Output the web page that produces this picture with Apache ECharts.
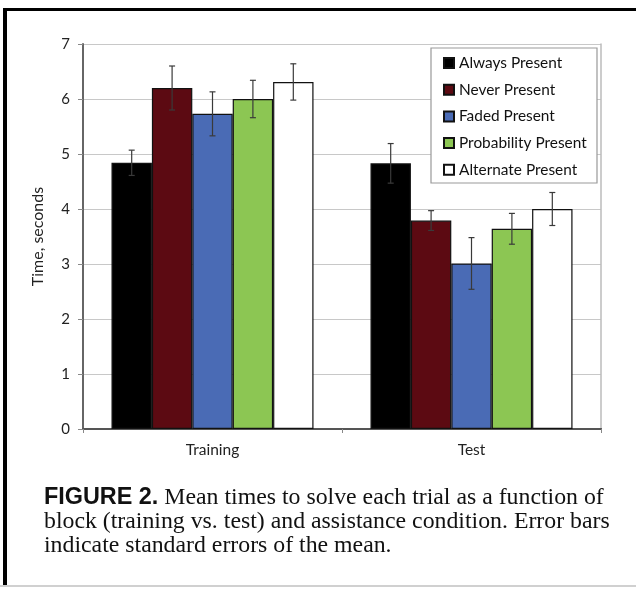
<!DOCTYPE html>
<html>
<head>
<meta charset="utf-8">
<script src="https://cdn.jsdelivr.net/npm/echarts@6/dist/echarts.min.js"></script>
<style>
html,body{margin:0;padding:0;background:#fff;}
#chart{width:636px;height:589px;}
</style>
</head>
<body>
<div id="chart"></div>
<script>
var categories = ['Training', 'Test'];
var seriesNames = ['Always Present', 'Never Present', 'Faded Present', 'Probability Present', 'Alternate Present'];
var alwaysVals = [4.84, 4.83];
var alwaysErr = [0.23, 0.36];
var neverVals = [6.20, 3.79];
var neverErr = [0.40, 0.18];
var fadedVals = [5.73, 3.01];
var fadedErr = [0.40, 0.47];
var probVals = [6.00, 3.64];
var probErr = [0.34, 0.28];
var altVals = [6.31, 4.00];
var altErr = [0.33, 0.30];
var yTicks = [0, 1, 2, 3, 4, 5, 6, 7];

var colors = ['#000000', '#5c0a12', '#4a6bb5', '#8cc653', '#ffffff'];
var values = [alwaysVals, neverVals, fadedVals, probVals, altVals];
var errs = [alwaysErr, neverErr, fadedErr, probErr, altErr];

var catGap = 0.22;
var sans = 'Lato, "Open Sans", sans-serif';
var serifFont = '"Liberation Serif", "Times New Roman", serif';

var series = [];
values.forEach(function (vals, i) {
  series.push({
    name: seriesNames[i],
    type: 'bar',
    data: vals,
    barGap: '0%',
    barCategoryGap: (catGap * 100) + '%',
    itemStyle: { color: colors[i], borderColor: '#111', borderWidth: 1.2 },
    z: 2
  });
});
values.forEach(function (vals, i) {
  var data = vals.map(function (v, j) { return [j, v, errs[i][j]]; });
  series.push({
    type: 'custom',
    name: seriesNames[i] + ' err',
    data: data,
    z: 5,
    silent: true,
    renderItem: function (params, api) {
      var x = api.value(0), v = api.value(1), e = api.value(2);
      var band = api.size([1, 0])[0];
      var bw = band * (1 - catGap) / 5;
      var off = (i - 2) * bw;
      var top = api.coord([x, v + e]);
      var bot = api.coord([x, v - e]);
      var cx = top[0] + off;
      var cap = 3;
      var st = { stroke: '#3a3a3a', lineWidth: 1.2 };
      return {
        type: 'group',
        children: [
          { type: 'line', shape: { x1: cx, y1: top[1], x2: cx, y2: bot[1] }, style: st },
          { type: 'line', shape: { x1: cx - cap, y1: top[1], x2: cx + cap, y2: top[1] }, style: st },
          { type: 'line', shape: { x1: cx - cap, y1: bot[1], x2: cx + cap, y2: bot[1] }, style: st }
        ]
      };
    }
  });
});

var chart = echarts.init(document.getElementById('chart'), null, { renderer: 'canvas' });
chart.setOption({
  backgroundColor: '#fff',
  animation: false,
  grid: { left: 83, right: 35, top: 44, bottom: 160 },
  legend: {
    data: seriesNames,
    orient: 'vertical',
    left: 443,
    top: 55,
    padding: 0,
    itemWidth: 10,
    itemHeight: 10,
    itemGap: 10.7,
    icon: 'rect',
    z: 10,
    textStyle: { fontFamily: sans, fontSize: 15.4, color: '#111', lineHeight: 16, padding: [0, 0, 0, 0] },
    selectedMode: false
  },
  xAxis: [{
    type: 'category',
    data: categories,
    position: 'bottom',
    axisLine: { lineStyle: { color: '#666', width: 2 } },
    axisTick: { show: true, length: 4, lineStyle: { color: '#888' } },
    axisLabel: { fontFamily: sans, fontSize: 15.5, color: '#222', margin: 13 }
  }, {
    type: 'category',
    data: categories,
    position: 'top',
    axisLine: { lineStyle: { color: '#555', width: 2 } },
    axisTick: { show: false },
    axisLabel: { show: false }
  }],
  yAxis: [{
    type: 'value',
    min: yTicks[0],
    max: yTicks[yTicks.length - 1],
    interval: 1,
    name: 'Time, seconds',
    nameLocation: 'middle',
    nameGap: 37,
    nameTextStyle: { fontFamily: sans, fontSize: 16, color: '#222' },
    axisLine: { show: true, lineStyle: { color: '#666', width: 2 } },
    axisTick: { show: true, length: 5, lineStyle: { color: '#888' } },
    axisLabel: { fontFamily: sans, fontSize: 15, color: '#222', margin: 13 },
    splitLine: { show: true, lineStyle: { color: '#c8c8c8', width: 1 } }
  }, {
    type: 'value',
    min: yTicks[0],
    max: yTicks[yTicks.length - 1],
    interval: 1,
    position: 'right',
    axisLine: { show: true, lineStyle: { color: '#bbb', width: 1.5 } },
    axisTick: { show: false },
    axisLabel: { show: false },
    splitLine: { show: false }
  }],
  graphic: [
    { type: 'rect', z: 6, shape: { x: 431, y: 48, width: 166, height: 135 },
      style: { fill: '#fff', stroke: '#999', lineWidth: 1.2 } },
    { type: 'rect', z: 1, shape: { x: 3, y: 8, width: 633, height: 3 }, style: { fill: '#000' } },
    { type: 'rect', z: 1, shape: { x: 3, y: 8, width: 4, height: 577 }, style: { fill: '#000' } },
    { type: 'rect', z: 1, shape: { x: 0, y: 585, width: 636, height: 2 }, style: { fill: '#d0d0d0' } },
    { type: 'text', z: 1, x: 44, y: 498,
      style: {
        text: '{b|FIGURE 2.}{r| Mean times to solve each trial as a function of}',
        verticalAlign: 'middle',
        rich: {
          b: { fontFamily: '"Liberation Sans", Arial, sans-serif', fontWeight: 'bold', fontSize: 23.4, fill: '#111' },
          r: { fontFamily: serifFont, fontSize: 23.8, fill: '#111' }
        }
      } },
    { type: 'text', z: 1, x: 44, y: 522,
      style: { text: 'block (training vs. test) and assistance condition. Error bars', verticalAlign: 'middle',
        font: '23.8px ' + serifFont, fill: '#111' } },
    { type: 'text', z: 1, x: 44, y: 546,
      style: { text: 'indicate standard errors of the mean.', verticalAlign: 'middle',
        font: '23.8px ' + serifFont, fill: '#111' } }
  ],
  series: series
});
</script>
</body>
</html>
